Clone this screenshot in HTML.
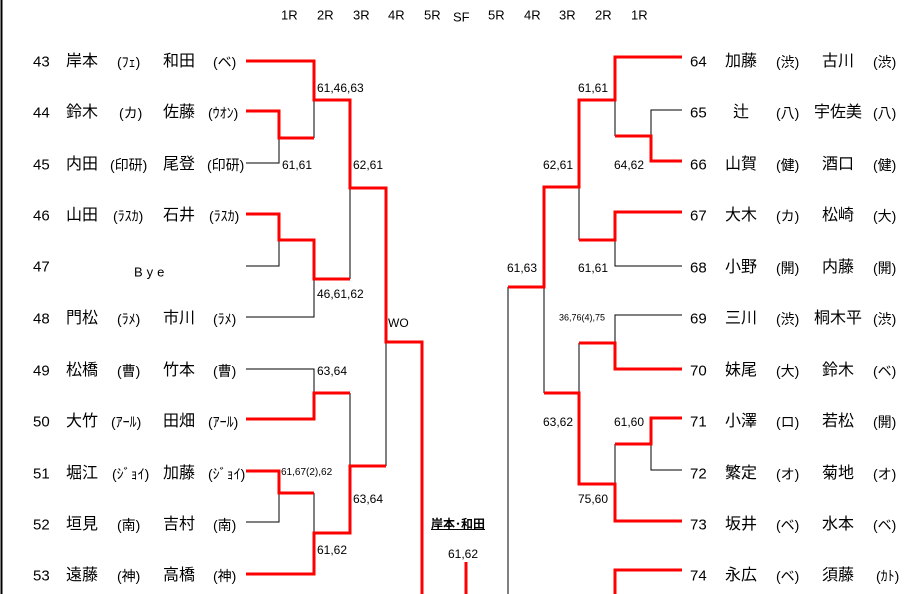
<!DOCTYPE html>
<html><head><meta charset="utf-8"><style>
body{margin:0;width:917px;height:594px;overflow:hidden;background:#fff;position:relative;font-family:"Liberation Sans","Noto Sans CJK JP",sans-serif;color:#000}
.t{position:absolute;white-space:nowrap;line-height:1;transform:translateY(-50%)}
.n{font-size:15px}
.m{font-size:16px}
.p{font-size:14px}
.s{font-size:12px}
.xs{font-size:9px}
.h{font-size:13px}
svg{position:absolute;left:0;top:0}
</style></head><body>
<svg width="917" height="594" fill="none">
<line x1="1.5" y1="0" x2="1.5" y2="594" stroke="#000" stroke-width="2"/>
<g stroke="#000" stroke-width="1">
<path d="M314 100V138M246 163H279V138M350 188V279M246 266H279V240M246 317H314V279M386 342V466M246 369H314V393M350 393V466M314 493V533M246 522H279V493M508 287V594"/>
<path d="M615 100V136M682 110H651V136M579 187V240M682 266H615V240M544 287V393M682 315H615V343M579 343V393M615 444V484M682 470H651V444"/>
</g>
<g stroke="#f00" stroke-width="3">
<path d="M246 61H314V100H350V188H386V342H422V594"/>
<path d="M246 111H279V138H314"/>
<path d="M246 214H279V240H314V279H350"/>
<path d="M246 419H314V393H350"/>
<path d="M246 471H279V493H314"/>
<path d="M246 574H314V533H350V466H386"/>
<path d="M466 562V594"/>
<path d="M682 57H615V100H579V187H544V287H508"/>
<path d="M682 161H651V136H615"/>
<path d="M682 212H615V240H579"/>
<path d="M682 369H615V343H579"/>
<path d="M544 393H579V484H615V521H682"/>
<path d="M682 418H651V444H615"/>
<path d="M682 570H615V594"/>
</g>
</svg>

<div class="t h" style="left:281px;top:15px">1R</div>
<div class="t h" style="left:317px;top:15px">2R</div>
<div class="t h" style="left:353px;top:15px">3R</div>
<div class="t h" style="left:388px;top:15px">4R</div>
<div class="t h" style="left:424px;top:15px">5R</div>
<div class="t h" style="left:453px;top:17px">SF</div>
<div class="t h" style="left:488px;top:15px">5R</div>
<div class="t h" style="left:524px;top:15px">4R</div>
<div class="t h" style="left:559px;top:15px">3R</div>
<div class="t h" style="left:595px;top:15px">2R</div>
<div class="t h" style="left:631px;top:15px">1R</div>

<div class="t n" style="left:33px;top:62px">43</div><div class="t m" style="left:66px;top:62px">岸本</div><div class="t p" style="left:117px;top:62px">(ﾌｪ)</div><div class="t m" style="left:163px;top:62px">和田</div><div class="t p" style="left:213px;top:62px">(ベ)</div>
<div class="t n" style="left:33px;top:113px">44</div><div class="t m" style="left:66px;top:113px">鈴木</div><div class="t p" style="left:119px;top:113px">(カ)</div><div class="t m" style="left:163px;top:113px">佐藤</div><div class="t p" style="left:208px;top:113px">(ｳｵﾝ)</div>
<div class="t n" style="left:33px;top:165px">45</div><div class="t m" style="left:66px;top:165px">内田</div><div class="t p" style="left:110px;top:165px">(印研)</div><div class="t m" style="left:163px;top:165px">尾登</div><div class="t p" style="left:207px;top:165px">(印研)</div>
<div class="t n" style="left:33px;top:216px">46</div><div class="t m" style="left:66px;top:216px">山田</div><div class="t p" style="left:113px;top:216px">(ﾗｽｶ)</div><div class="t m" style="left:163px;top:216px">石井</div><div class="t p" style="left:209px;top:216px">(ﾗｽｶ)</div>
<div class="t n" style="left:33px;top:267px">47</div><div class="t h" style="left:134px;top:272px;letter-spacing:4px">Bye</div>
<div class="t n" style="left:33px;top:319px">48</div><div class="t m" style="left:66px;top:319px">門松</div><div class="t p" style="left:117px;top:319px">(ﾗﾒ)</div><div class="t m" style="left:163px;top:319px">市川</div><div class="t p" style="left:213px;top:319px">(ﾗﾒ)</div>
<div class="t n" style="left:33px;top:371px">49</div><div class="t m" style="left:66px;top:371px">松橋</div><div class="t p" style="left:117px;top:371px">(曹)</div><div class="t m" style="left:163px;top:371px">竹本</div><div class="t p" style="left:213px;top:371px">(曹)</div>
<div class="t n" style="left:33px;top:422px">50</div><div class="t m" style="left:66px;top:422px">大竹</div><div class="t p" style="left:111px;top:422px">(ｱｰﾙ)</div><div class="t m" style="left:163px;top:422px">田畑</div><div class="t p" style="left:208px;top:422px">(ｱｰﾙ)</div>
<div class="t n" style="left:33px;top:474px">51</div><div class="t m" style="left:66px;top:474px">堀江</div><div class="t p" style="left:112px;top:474px">(ｼﾞｮｲ)</div><div class="t m" style="left:163px;top:474px">加藤</div><div class="t p" style="left:208px;top:474px">(ｼﾞｮｲ)</div>
<div class="t n" style="left:33px;top:525px">52</div><div class="t m" style="left:66px;top:525px">垣見</div><div class="t p" style="left:117px;top:525px">(南)</div><div class="t m" style="left:163px;top:525px">吉村</div><div class="t p" style="left:213px;top:525px">(南)</div>
<div class="t n" style="left:33px;top:576px">53</div><div class="t m" style="left:66px;top:576px">遠藤</div><div class="t p" style="left:117px;top:576px">(神)</div><div class="t m" style="left:163px;top:576px">高橋</div><div class="t p" style="left:213px;top:576px">(神)</div>

<div class="t n" style="left:690px;top:62px">64</div><div class="t m" style="left:725px;top:62px">加藤</div><div class="t p" style="left:776px;top:62px">(渋)</div><div class="t m" style="left:822px;top:62px">古川</div><div class="t p" style="left:873px;top:62px">(渋)</div>
<div class="t n" style="left:690px;top:113px">65</div><div class="t m" style="left:733px;top:113px">辻</div><div class="t p" style="left:776px;top:113px">(八)</div><div class="t m" style="left:814px;top:113px">宇佐美</div><div class="t p" style="left:873px;top:113px">(八)</div>
<div class="t n" style="left:690px;top:165px">66</div><div class="t m" style="left:725px;top:165px">山賀</div><div class="t p" style="left:776px;top:165px">(健)</div><div class="t m" style="left:822px;top:165px">酒口</div><div class="t p" style="left:873px;top:165px">(健)</div>
<div class="t n" style="left:690px;top:216px">67</div><div class="t m" style="left:725px;top:216px">大木</div><div class="t p" style="left:776px;top:216px">(カ)</div><div class="t m" style="left:822px;top:216px">松崎</div><div class="t p" style="left:873px;top:216px">(大)</div>
<div class="t n" style="left:690px;top:268px">68</div><div class="t m" style="left:725px;top:268px">小野</div><div class="t p" style="left:776px;top:268px">(開)</div><div class="t m" style="left:822px;top:268px">内藤</div><div class="t p" style="left:873px;top:268px">(開)</div>
<div class="t n" style="left:690px;top:319px">69</div><div class="t m" style="left:725px;top:319px">三川</div><div class="t p" style="left:776px;top:319px">(渋)</div><div class="t m" style="left:814px;top:319px">桐木平</div><div class="t p" style="left:873px;top:319px">(渋)</div>
<div class="t n" style="left:690px;top:371px">70</div><div class="t m" style="left:725px;top:371px">妹尾</div><div class="t p" style="left:776px;top:371px">(大)</div><div class="t m" style="left:822px;top:371px">鈴木</div><div class="t p" style="left:873px;top:371px">(ベ)</div>
<div class="t n" style="left:690px;top:422px">71</div><div class="t m" style="left:725px;top:422px">小澤</div><div class="t p" style="left:776px;top:422px">(ロ)</div><div class="t m" style="left:822px;top:422px">若松</div><div class="t p" style="left:873px;top:422px">(開)</div>
<div class="t n" style="left:690px;top:474px">72</div><div class="t m" style="left:725px;top:474px">繁定</div><div class="t p" style="left:776px;top:474px">(オ)</div><div class="t m" style="left:822px;top:474px">菊地</div><div class="t p" style="left:873px;top:474px">(オ)</div>
<div class="t n" style="left:690px;top:525px">73</div><div class="t m" style="left:725px;top:525px">坂井</div><div class="t p" style="left:776px;top:525px">(ベ)</div><div class="t m" style="left:822px;top:525px">水本</div><div class="t p" style="left:873px;top:525px">(ベ)</div>
<div class="t n" style="left:690px;top:576px">74</div><div class="t m" style="left:725px;top:576px">永広</div><div class="t p" style="left:776px;top:576px">(ベ)</div><div class="t m" style="left:822px;top:576px">須藤</div><div class="t p" style="left:876px;top:576px">(ｶﾄ)</div>

<div class="t s" style="left:317px;top:88px">61,46,63</div>
<div class="t s" style="left:282px;top:165px">61,61</div>
<div class="t s" style="left:353px;top:165px">62,61</div>
<div class="t s" style="left:317px;top:294px">46,61,62</div>
<div class="t s" style="left:388px;top:323px">WO</div>
<div class="t s" style="left:317px;top:371px">63,64</div>
<div class="t" style="left:281px;top:473px;font-size:10px">61,67(2),62</div>
<div class="t s" style="left:353px;top:499px">63,64</div>
<div class="t s" style="left:317px;top:550px">61,62</div>
<div class="t" style="left:431px;top:524px;font-size:12px;font-weight:bold;text-decoration:underline">岸本･和田</div>
<div class="t s" style="left:448px;top:554px">61,62</div>

<div class="t s" style="left:578px;top:88px">61,61</div>
<div class="t s" style="left:614px;top:165px">64,62</div>
<div class="t s" style="left:543px;top:165px">62,61</div>
<div class="t s" style="left:507px;top:268px">61,63</div>
<div class="t s" style="left:578px;top:268px">61,61</div>
<div class="t xs" style="left:559px;top:318px">36,76(4),75</div>
<div class="t s" style="left:543px;top:422px">63,62</div>
<div class="t s" style="left:614px;top:422px">61,60</div>
<div class="t s" style="left:578px;top:499px">75,60</div>
</body></html>
